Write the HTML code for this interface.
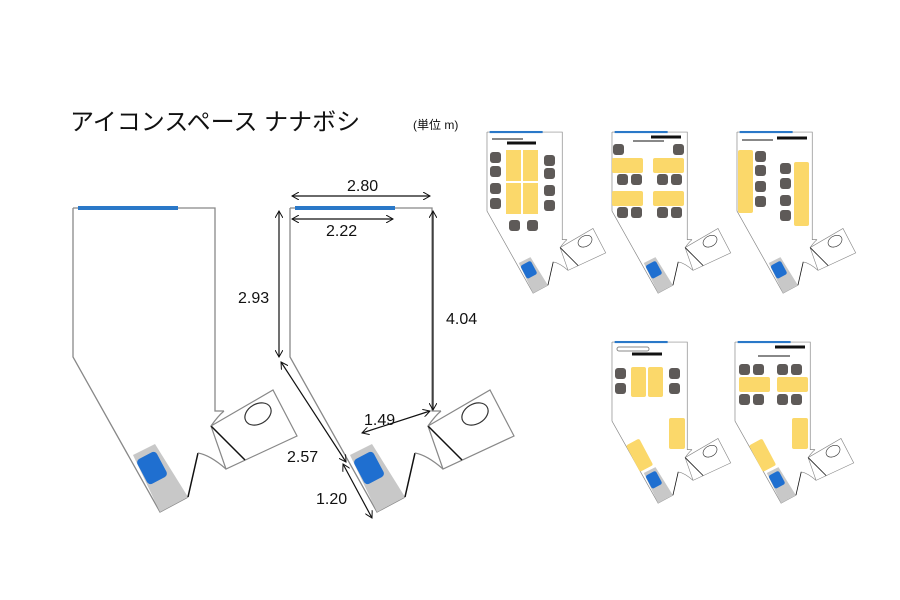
<!DOCTYPE html>
<html><head><meta charset="utf-8"><style>
html,body{margin:0;padding:0;background:#fff;width:900px;height:600px;overflow:hidden}
svg{display:block}
text{font-family:"Liberation Sans","Noto Sans CJK JP",sans-serif;fill:#111}
</style></head><body>
<svg width="900" height="600" viewBox="0 0 900 600" xmlns="http://www.w3.org/2000/svg">
<defs>
<marker id="a" markerWidth="8" markerHeight="8" refX="7" refY="4" orient="auto-start-reverse" markerUnits="userSpaceOnUse"><path d="M0,0 L7,4 L0,8" fill="none" stroke="#111" stroke-width="1"/></marker>
<g id="plan">
<path d="M73,208 L215,208 L215,411 L224,411" fill="none" stroke="#888" stroke-width="1.3"/>
<path d="M73,208 L73,357 L160,512 L188,497" fill="none" stroke="#888" stroke-width="1.3"/>
<polygon points="133,455 155,444 188,497 160,512" fill="#c8c8c8"/>
<rect x="141" y="454" width="22" height="28" rx="4" fill="#1f6fd0" transform="rotate(-28 152 468)"/>
<path d="M188,497 L198,453" stroke="#111" stroke-width="1.5" fill="none"/>
<path d="M198,453 Q210,455 226,469" stroke="#888" stroke-width="1.2" fill="none"/>
<polygon points="211,426 273,390 297,436 226,469" fill="#fff" stroke="#888" stroke-width="1.2"/>
<path d="M211,426 L245,460" stroke="#111" stroke-width="1.5"/>
<path d="M224,411 Q218,416 211,426" stroke="#888" stroke-width="1.2" fill="none"/>
<ellipse cx="258" cy="414" rx="14" ry="10" transform="rotate(-30 258 414)" fill="#fff" stroke="#333" stroke-width="1.2"/>
<rect x="78" y="206" width="100" height="4" fill="#2a78c8"/>
</g>
</defs>

<text x="70" y="130" font-size="24">アイコンスペース ナナボシ</text>
<text x="413" y="129" font-size="12">(単位 m)</text>

<use href="#plan"/>
<use href="#plan" transform="translate(217,0)"/>

<g stroke="#111" stroke-width="1.2" fill="none">
<line x1="292" y1="196" x2="430" y2="196" marker-start="url(#a)" marker-end="url(#a)"/>
<line x1="292" y1="219" x2="393" y2="219" marker-start="url(#a)" marker-end="url(#a)"/>
<line x1="279" y1="211" x2="279" y2="357" marker-start="url(#a)" marker-end="url(#a)"/>
<line x1="433" y1="211" x2="433" y2="410" marker-start="url(#a)" marker-end="url(#a)"/>
<line x1="281" y1="362" x2="346" y2="462" marker-start="url(#a)" marker-end="url(#a)"/>
<line x1="343" y1="464" x2="372" y2="518" marker-start="url(#a)" marker-end="url(#a)"/>
<line x1="362" y1="433" x2="430" y2="411" marker-start="url(#a)" marker-end="url(#a)"/>
</g>
<g font-size="16">
<text x="347" y="191">2.80</text>
<text x="326" y="236">2.22</text>
<text x="238" y="303">2.93</text>
<text x="446" y="324">4.04</text>
<text x="287" y="462">2.57</text>
<text x="316" y="504">1.20</text>
<text x="364" y="425">1.49</text>
</g>

<!-- small plans -->
<use href="#plan" transform="translate(448.3,21.8) scale(0.53)"/>
<use href="#plan" transform="translate(573.3,21.8) scale(0.53)"/>
<use href="#plan" transform="translate(698.3,21.8) scale(0.53)"/>
<use href="#plan" transform="translate(573.3,231.8) scale(0.53)"/>
<use href="#plan" transform="translate(696.3,231.8) scale(0.53)"/>

<g fill="#5e5a58">
<!-- plan1 -->
<rect x="490" y="152" width="11" height="11" rx="3"/><rect x="490" y="166" width="11" height="11" rx="3"/><rect x="490" y="183" width="11" height="11" rx="3"/><rect x="490" y="198" width="11" height="11" rx="3"/>
<rect x="544" y="155" width="11" height="11" rx="3"/><rect x="544" y="168" width="11" height="11" rx="3"/><rect x="544" y="185" width="11" height="11" rx="3"/><rect x="544" y="200" width="11" height="11" rx="3"/>
<rect x="509" y="220" width="11" height="11" rx="3"/><rect x="527" y="220" width="11" height="11" rx="3"/>
<!-- plan2 -->
<rect x="613" y="144" width="11" height="11" rx="3"/><rect x="673" y="144" width="11" height="11" rx="3"/>
<rect x="617" y="174" width="11" height="11" rx="3"/><rect x="631" y="174" width="11" height="11" rx="3"/><rect x="657" y="174" width="11" height="11" rx="3"/><rect x="671" y="174" width="11" height="11" rx="3"/>
<rect x="617" y="207" width="11" height="11" rx="3"/><rect x="631" y="207" width="11" height="11" rx="3"/><rect x="657" y="207" width="11" height="11" rx="3"/><rect x="671" y="207" width="11" height="11" rx="3"/>
<!-- plan3 -->
<rect x="755" y="151" width="11" height="11" rx="3"/><rect x="755" y="165" width="11" height="11" rx="3"/><rect x="755" y="181" width="11" height="11" rx="3"/><rect x="755" y="196" width="11" height="11" rx="3"/>
<rect x="780" y="163" width="11" height="11" rx="3"/><rect x="780" y="178" width="11" height="11" rx="3"/><rect x="780" y="195" width="11" height="11" rx="3"/><rect x="780" y="210" width="11" height="11" rx="3"/>
<!-- plan4 -->
<rect x="615" y="368" width="11" height="11" rx="3"/><rect x="615" y="383" width="11" height="11" rx="3"/><rect x="669" y="368" width="11" height="11" rx="3"/><rect x="669" y="383" width="11" height="11" rx="3"/>
<!-- plan5 -->
<rect x="739" y="364" width="11" height="11" rx="3"/><rect x="753" y="364" width="11" height="11" rx="3"/><rect x="777" y="364" width="11" height="11" rx="3"/><rect x="791" y="364" width="11" height="11" rx="3"/>
<rect x="739" y="394" width="11" height="11" rx="3"/><rect x="753" y="394" width="11" height="11" rx="3"/><rect x="777" y="394" width="11" height="11" rx="3"/><rect x="791" y="394" width="11" height="11" rx="3"/>
</g>
<g fill="#fbd86a">
<rect x="506" y="150" width="15" height="31"/><rect x="523" y="150" width="15" height="31"/><rect x="506" y="183" width="15" height="31"/><rect x="523" y="183" width="15" height="31"/>
<rect x="612" y="158" width="31" height="15" rx="2"/><rect x="653" y="158" width="31" height="15" rx="2"/><rect x="612" y="191" width="31" height="15" rx="2"/><rect x="653" y="191" width="31" height="15" rx="2"/>
<rect x="738" y="150" width="15" height="63" rx="2"/><rect x="794" y="162" width="15" height="64" rx="2"/>
<rect x="631" y="367" width="15" height="30" rx="2"/><rect x="648" y="367" width="15" height="30" rx="2"/><rect x="669" y="418" width="16" height="31" rx="2"/>
<rect x="632" y="440" width="15" height="30" rx="2" transform="rotate(-28 640 455)"/>
<rect x="739" y="377" width="31" height="15" rx="2"/><rect x="777" y="377" width="31" height="15" rx="2"/><rect x="792" y="418" width="16" height="31" rx="2"/>
<rect x="755" y="440" width="15" height="30" rx="2" transform="rotate(-28 763 455)"/>
</g>
<g stroke="#111">
<line x1="492" y1="139" x2="523" y2="139" stroke-width="1"/><line x1="507" y1="143" x2="536" y2="143" stroke-width="3"/>
<line x1="633" y1="141" x2="664" y2="141" stroke-width="1"/><line x1="651" y1="137" x2="681" y2="137" stroke-width="3"/>
<line x1="742" y1="140" x2="773" y2="140" stroke-width="1"/><line x1="777" y1="138" x2="807" y2="138" stroke-width="3"/>
<line x1="632" y1="354" x2="662" y2="354" stroke-width="3"/>
<line x1="775" y1="347" x2="805" y2="347" stroke-width="3"/><line x1="758" y1="356" x2="790" y2="356" stroke-width="1"/>
</g>
<rect x="617" y="347" width="32" height="4" rx="2" fill="#fff" stroke="#888" stroke-width="1"/>
</svg>
</body></html>
